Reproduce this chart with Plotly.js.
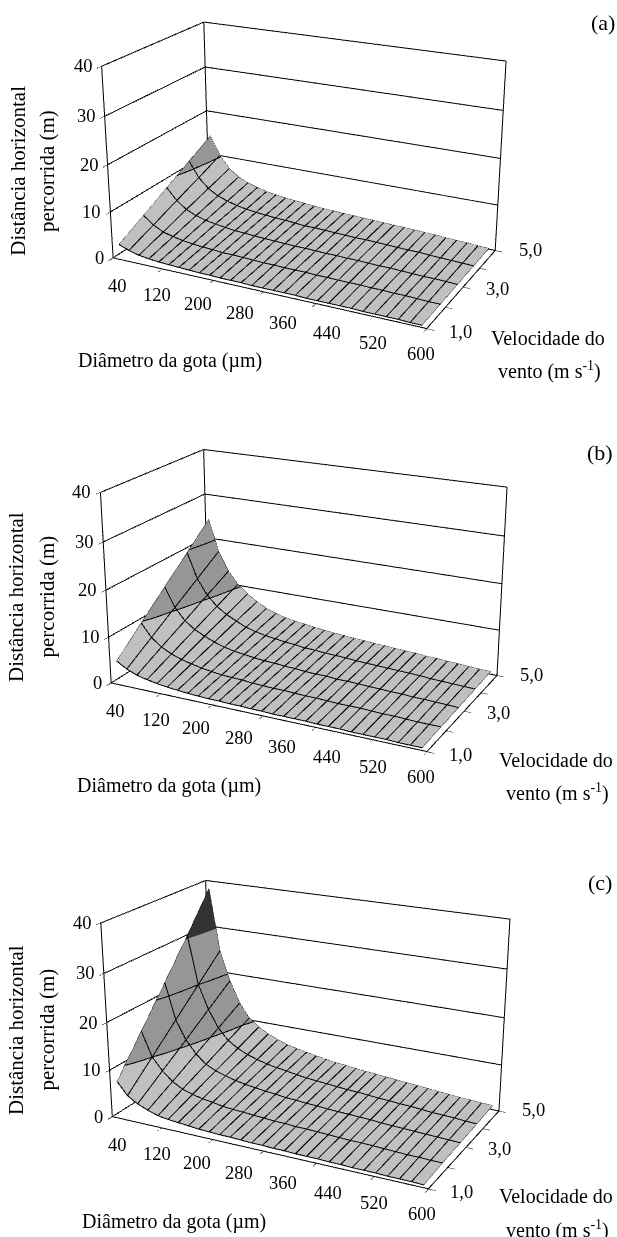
<!DOCTYPE html><html><head><meta charset="utf-8"><script src="https://cdn.plot.ly/plotly-3.0.1.min.js"></script>
<style>html,body{margin:0;padding:0;background:#fff}html{overflow:hidden}.g{position:absolute;left:0;width:617px}</style></head><body><script>
const diameters=[40,60,80,100,120,140,160,180,200,220,240,260,280,300,320,340,360,380,400,420,440,460,480,500,520,540,560,580,600];
const winds=[1,2,3,4,5];
const xLabels=[40,120,200,280,360,440,520,600];
const yLabelValues=[1,3,5];
const yLabels=['1,0','3,0','5,0'];
const zLabels=[0,10,20,30,40];
const zA=[[2.9,2.1,1.5,1.2,1,.9,.8,.7,.6,.6,.5,.5,.5,.4,.4,.4,.4,.4,.3,.3,.3,.3,.3,.2,.2,.2,.2,.1,.1],
[5.8,4.1,3,2.4,2,1.7,1.5,1.4,1.2,1.2,1.1,1,.9,.9,.8,.8,.8,.7,.7,.6,.6,.6,.5,.5,.4,.4,.3,.2,.2],
[8.7,6.2,4.6,3.6,3,2.6,2.3,2,1.9,1.7,1.6,1.5,1.4,1.3,1.3,1.2,1.1,1.1,1,1,.9,.8,.8,.7,.6,.5,.5,.4,.3],
[11.6,8.2,6.1,4.8,4,3.4,3,2.7,2.5,2.3,2.2,2,1.8,1.8,1.7,1.6,1.5,1.4,1.4,1.3,1.2,1.1,1,1,.8,.7,.6,.5,.4],
[14.5,10.3,7.6,6,5,4.3,3.8,3.4,3.1,2.9,2.7,2.5,2.3,2.2,2.1,2,1.9,1.8,1.7,1.6,1.5,1.4,1.3,1.2,1,.9,.8,.6,.5]];
const zB=[[4.8,3.5,2.6,2.1,1.7,1.4,1.2,1,.9,.8,.8,.7,.7,.6,.6,.5,.5,.5,.5,.4,.4,.4,.3,.3,.3,.3,.2,.2,.2],
[9.8,7,5.3,4.2,3.4,2.9,2.4,2.1,1.8,1.7,1.6,1.4,1.3,1.2,1.2,1.1,1,1,.9,.8,.8,.8,.7,.6,.6,.5,.4,.4,.4],
[14.7,10.5,7.9,6.3,5.2,4.3,3.6,3.1,2.8,2.5,2.3,2.2,2,1.9,1.7,1.6,1.6,1.4,1.4,1.3,1.2,1.1,1,1,.8,.8,.7,.6,.5],
[19.6,14,10.6,8.4,6.9,5.8,4.8,4.2,3.7,3.4,3.1,2.9,2.6,2.5,2.3,2.2,2.1,1.9,1.8,1.7,1.6,1.5,1.4,1.3,1.1,1,.9,.8,.7],
[24.5,17.5,13.2,10.5,8.6,7.2,6,5.2,4.6,4.2,3.9,3.6,3.3,3.1,2.9,2.7,2.6,2.4,2.3,2.1,2,1.9,1.7,1.6,1.4,1.3,1.1,1,.9]];
const zC=[[7.6,5,3.7,2.8,2.1,1.8,1.6,1.4,1.2,1.1,1,1,.9,.8,.8,.7,.7,.6,.6,.6,.5,.5,.4,.4,.4,.3,.3,.3,.2],
[15.2,10,7.4,5.5,4.3,3.6,3.1,2.8,2.4,2.2,2.1,1.9,1.8,1.6,1.6,1.4,1.4,1.3,1.2,1.1,1,1,.9,.8,.7,.6,.6,.5,.5],
[22.8,15,11,8.3,6.4,5.4,4.7,4.1,3.7,3.4,3.1,2.9,2.6,2.5,2.3,2.2,2,1.9,1.8,1.7,1.6,1.4,1.3,1.2,1.1,1,.9,.8,.7],
[30.5,20,14.8,11,8.6,7.2,6.2,5.5,4.9,4.5,4.2,3.8,3.5,3.3,3.1,2.9,2.7,2.6,2.4,2.2,2.1,1.9,1.8,1.6,1.4,1.3,1.2,1,.9],
[38.5,25,18.5,13.8,10.7,9,7.8,6.9,6.1,5.6,5.2,4.8,4.4,4.1,3.9,3.6,3.4,3.2,3,2.8,2.6,2.4,2.2,2,1.8,1.6,1.5,1.3,1.2]];
const panels=[
{name:'(a)',z:zA,H:1064,cy:175,eye:[2.653,-5.282,2.209],c:[.032,-.029,-.055],asp:[1.689,.944],
 tag:[603,22],rot:[[17.7,171],[47,171]],dia:[170,360],v1:[548,338],v2:[549,370]},
{name:'(b)',z:zB,H:1098,cy:600,eye:[2.788,-5.538,2.212],c:[.034,-.032,-.053],asp:[1.718,.967],
 tag:[600,452],rot:[[16,597],[46.5,597]],dia:[169,785],v1:[556,760],v2:[557,792]},
{name:'(c)',z:zC,H:1049,cy:1030,eye:[2.648,-5.155,2.109],c:[.023,-.024,-.042],asp:[1.694,.945],
 tag:[600,882],rot:[[16,1029.5],[46.5,1029.5]],dia:[174,1221],v1:[556,1195],v2:[557,1229]}];
const F='"Liberation Serif","Times New Roman",serif';
const xr=[30,610],yr=[.93,5.07],zr=[0,40];
panels.forEach(P=>{
 const H=P.H,top=P.cy-H/2;const d=document.createElement('div');d.className='g';d.style.top=top+'px';d.style.height=H+'px';document.body.appendChild(d);
 const ax={showgrid:false,zeroline:false,showline:false,showticklabels:false,ticks:'outside',ticklen:6,tickwidth:1,tickcolor:'#000',showbackground:false,showspikes:false,title:{text:''}};
 const pa=(x,y,text,size,extra)=>Object.assign({xref:'paper',yref:'paper',x:x/617,y:1-(y-top)/H,text,showarrow:false,xanchor:'center',yanchor:'middle',font:{family:F,size,color:'#000'}},extra||{});
 const sa=(x,y,z,text,xs,ys,anc)=>({x,y,z,text:String(text),showarrow:false,xanchor:anc||'center',yanchor:'middle',xshift:xs,yshift:ys,font:{family:F,size:18.5,color:'#000'}});
 const sceneAnn=[];
 zLabels.forEach(v=>sceneAnn.push(sa(xr[0],yr[0],v,v,-7,0,'right')));
 xLabels.forEach(v=>sceneAnn.push(sa(v,yr[0],0,v,0,-27)));
 yLabelValues.forEach((v,i)=>sceneAnn.push(sa(xr[1],v,0,yLabels[i],32+2*i,-5+3.5*i)));
 const lay={width:617,height:H,margin:{l:0,r:0,t:0,b:0},paper_bgcolor:'rgba(0,0,0,0)',showlegend:false,
  annotations:[pa(P.tag[0],P.tag[1],P.name,22),
   pa(P.rot[0][0],P.rot[0][1],'Distância horizontal',21),pa(P.rot[1][0],P.rot[1][1],'percorrida (m)',21),
   pa(P.dia[0],P.dia[1],'Diâmetro da gota (µm)',20),pa(P.v1[0],P.v1[1],'Velocidade do',20),pa(P.v2[0],P.v2[1],'vento (m s<sup>-1</sup>)',20)],
  scene:{domain:{x:[0,1],y:[0,1]},aspectmode:'manual',aspectratio:{x:P.asp[0],y:P.asp[1],z:1},camera:{eye:{x:P.eye[0],y:P.eye[1],z:P.eye[2]},center:{x:P.c[0],y:P.c[1],z:P.c[2]},up:{x:0,y:0,z:1}},bgcolor:'rgba(0,0,0,0)',annotations:sceneAnn,
  xaxis:{...ax,range:[xr[0]-.3,xr[1]+.3],tickvals:[30,130,230,325,420,520,610]},yaxis:{...ax,range:[yr[0]-.005,yr[1]+.005],tickvals:[.93,1.965,3,4.035,5.07]},zaxis:{...ax,range:[zr[0]-.04,zr[1]+.04],tickvals:zLabels}}};
 lay.annotations[1].textangle=-90;lay.annotations[2].textangle=-90;
 const segs=[[xr[0],yr[0],0,xr[0],yr[0],40],[xr[0],yr[1],0,xr[0],yr[1],40],[xr[1],yr[1],0,xr[1],yr[1],40],[xr[0],yr[0],40,xr[0],yr[1],40],[xr[0],yr[1],40,xr[1],yr[1],40],[xr[0],yr[0],0,xr[1],yr[0],0],[xr[1],yr[0],0,xr[1],yr[1],0],[xr[0],yr[0],0,xr[0],yr[1],0],[xr[0],yr[1],0,xr[1],yr[1],0]];
 [10,20,30].forEach(z=>{segs.push([xr[0],yr[0],z,xr[0],yr[1],z],[xr[0],yr[1],z,xr[1],yr[1],z])});
 const X=[],Y=[],Z=[];segs.forEach(s=>{X.push(s[0],s[3],null);Y.push(s[1],s[4],null);Z.push(s[2],s[5],null)});
 const bx=[],by=[],bz=[];const n=diameters.length,m=winds.length;
 for(let i=0;i<n;i++){bx.push(diameters[i]);by.push(winds[0]);bz.push(P.z[0][i])}
 for(let j=1;j<m;j++){bx.push(diameters[n-1]);by.push(winds[j]);bz.push(P.z[j][n-1])}
 for(let i=n-2;i>=0;i--){bx.push(diameters[i]);by.push(winds[m-1]);bz.push(P.z[m-1][i])}
 for(let j=m-2;j>=0;j--){bx.push(diameters[0]);by.push(winds[j]);bz.push(P.z[j][0])}
 const data=[{type:'scatter3d',mode:'lines',x:X,y:Y,z:Z,line:{color:'#000',width:2},hoverinfo:'skip'},
 {type:'scatter3d',mode:'lines',x:bx,y:by,z:bz,line:{color:'#000',width:1},hoverinfo:'skip'},
 {type:'surface',x:diameters,y:winds,z:P.z,cmin:0,cmax:40,showscale:false,colorscale:[[0,'#c0c0c0'],[.25,'#c0c0c0'],[.25,'#969696'],[.75,'#969696'],[.75,'#333'],[1,'#333']],lighting:{ambient:1,diffuse:0,specular:0,fresnel:0,roughness:1},contours:{x:{show:true,start:40,end:600,size:20,color:'#000',width:1},y:{show:true,start:1,end:5,size:1,color:'#000',width:1},z:{show:true,start:10,end:30,size:10,color:'#000',width:1}},hoverinfo:'skip'}];
 Plotly.newPlot(d,data,lay,{displayModeBar:false,plotGlPixelRatio:1});
});
</script></body></html>
